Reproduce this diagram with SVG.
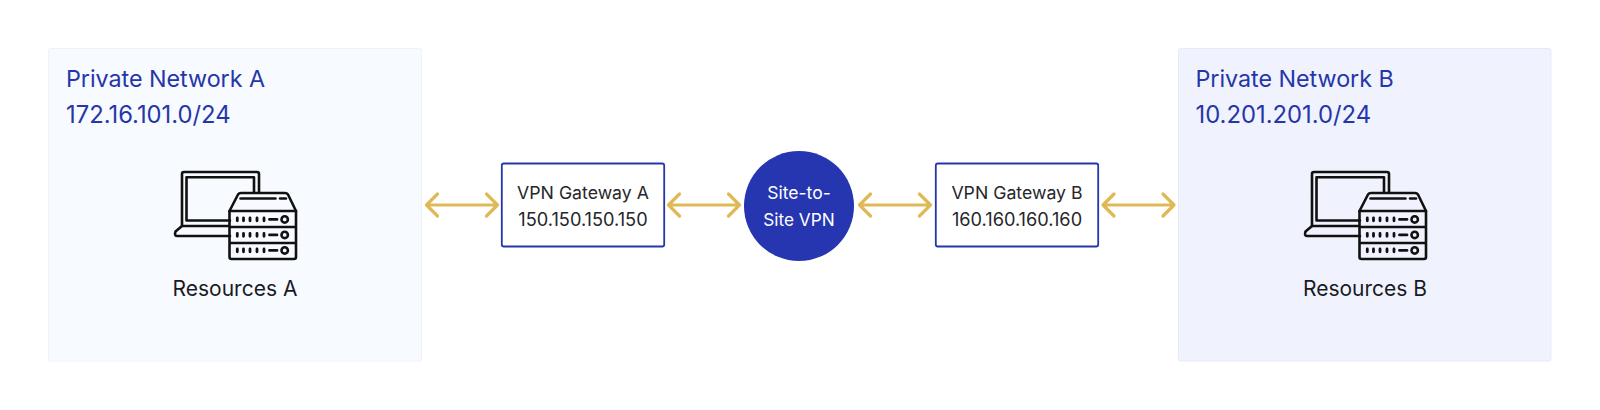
<svg xmlns="http://www.w3.org/2000/svg" xmlns:xlink="http://www.w3.org/1999/xlink" width="1600" height="410" viewBox="0 0 1600 410">
<style>
text{font-family:Inter,"Liberation Sans",sans-serif}
.title{font-size:23.3px;fill:#2536a8;letter-spacing:-.03px}
.num{font-size:23.8px;fill:#2536a8}
.res{font-size:21px;fill:#1a1a1f;text-anchor:middle}
.gw{font-size:17.700px;fill:#26262b;text-anchor:middle}
.gn{font-size:18.200px;fill:#26262b;text-anchor:middle}
.gbox{fill:#fff;stroke:#2536a8;stroke-width:1.8}
.ln{fill:none;stroke:#dfb955;stroke-width:3.200;stroke-linecap:round;stroke-linejoin:round}
.ic{fill:none;stroke:#111;stroke-width:2.600;stroke-linejoin:round;stroke-linecap:round}
.icd{fill:none;stroke:#111;stroke-width:2.800;stroke-linecap:round}
</style>
<defs>
<g id="pair-icon">
<path class="ic" d="M229 226H182V174a2 2 0 0 1 2-2H257a2 2 0 0 1 2 2V192"/>
<path class="ic" d="M230 220.500H186.500V177.200H254V192"/>
<path class="ic" d="M182 226L175.500 231.500Q174 236 177 236H230"/>
<path class="ic" d="M229.500 211L238 194.500Q239 193 241 193H285Q287 193 288 194.500L296 211"/>
<path class="ic" d="M229.500 211H296V226Q296 227 295 227H231Q229.500 227 229.500 226ZM229.500 227V242Q229.500 243 231 243H295Q296 243 296 242V227M229.500 243V257Q229.500 259 231.500 259H294Q296 259 296 257V243"/>
<path class="ic" d="M240.500 198.500H275.500M280 198.500H286"/>
<g id="row">
<path class="icd" d="M237.300 218v2.800M243.500 218v2.800M250 218v2.800M257 218v2.800M264 218v2.800M269.500 219.400H277"/>
<circle class="ic" cx="284.700" cy="219.400" r="3.200"/>
</g>
<use href="#row" xlink:href="#row" y="15.500"/>
<use href="#row" xlink:href="#row" y="31"/>
</g>
<path id="dbl" class="ln" d="M0 0H71M11-11L0 0L11 11M60-11L71 0L60 11"/>
</defs>
<g id="network-a">
<rect x="48.500" y="48.500" width="373" height="312.500" rx="2" fill="#f7faff" stroke="#eef2fd"/>
<text class="title" x="66" y="87">Private Network A</text>
<text class="num" x="66" y="123">172.16.101.0/24</text>
<use href="#pair-icon" xlink:href="#pair-icon"/>
<text class="res" x="235" y="296">Resources A</text>
</g>
<g id="network-b">
<rect x="1178.500" y="48.500" width="372.500" height="312.500" rx="2" fill="#f0f3fe" stroke="#e6ebfb"/>
<text class="title" x="1195.500" y="87">Private Network B</text>
<text class="num" x="1195.500" y="123">10.201.201.0/24</text>
<use href="#pair-icon" xlink:href="#pair-icon" x="1130"/>
<text class="res" x="1365" y="296">Resources B</text>
</g>
<g id="gateway-a">
<rect class="gbox" x="501.800" y="163.500" width="162.400" height="83" rx="2"/>
<text class="gw" x="583" y="198.500">VPN Gateway A</text>
<text class="gn" x="583" y="225.500">150.150.150.150</text>
</g>
<g id="vpn">
<circle cx="799" cy="206" r="55" fill="#2536b0"/>
<text x="799" y="198.500" font-size="17.500" fill="#fff" text-anchor="middle">Site-to-</text>
<text x="799" y="225.500" font-size="17.200" fill="#fff" text-anchor="middle">Site VPN</text>
</g>
<g id="gateway-b">
<rect class="gbox" x="935.800" y="163.500" width="162.400" height="83" rx="2"/>
<text class="gw" x="1017" y="198.500">VPN Gateway B</text>
<text class="gn" x="1017" y="225.500">160.160.160.160</text>
</g>
<g id="connectors">
<use href="#dbl" xlink:href="#dbl" x="426.500" y="205"/>
<use href="#dbl" xlink:href="#dbl" x="668.500" y="205"/>
<use href="#dbl" xlink:href="#dbl" x="859.500" y="205"/>
<use href="#dbl" xlink:href="#dbl" x="1103" y="205"/>
</g>
</svg>
